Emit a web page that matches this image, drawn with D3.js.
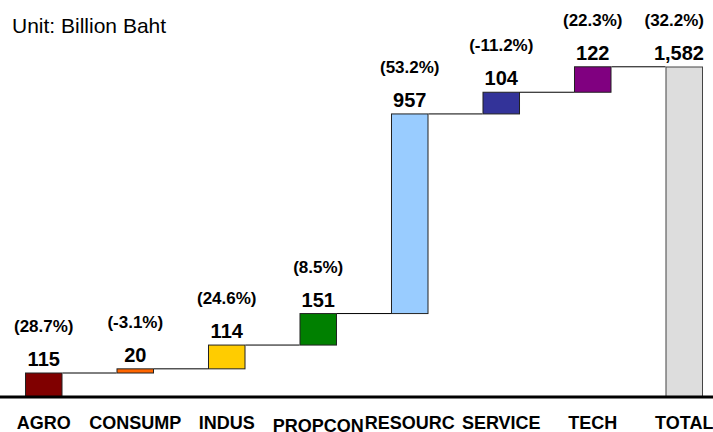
<!DOCTYPE html>
<html>
<head>
<meta charset="utf-8">
<script src="https://cdn.jsdelivr.net/npm/d3@7"></script>
<style>
  html, body { margin: 0; padding: 0; background: #fff; }
  svg { display: block; }
  text { font-family: Arial, "Liberation Sans", sans-serif; }
</style>
</head>
<body>
<svg id="chart" width="713" height="432"></svg>
<script>
const categories = ["AGRO", "CONSUMP", "INDUS", "PROPCON", "RESOURC", "SERVICE", "TECH", "TOTAL"];
const values = [115, 20, 114, 151, 957, 104, 122, 1582];
const valueLabels = ["115", "20", "114", "151", "957", "104", "122", "1,582"];
const pctLabels = ["(28.7%)", "(-3.1%)", "(24.6%)", "(8.5%)", "(53.2%)", "(-11.2%)", "(22.3%)", "(32.2%)"];
const colors = ["#800000", "#FF6600", "#FFCC00", "#008000", "#99CCFF", "#333399", "#800080", "#DDDDDD"];
const unitLabel = "Unit: Billion Baht";

// waterfall: each step starts where the previous ended; the last is the total from 0
const rows = [];
let cum = 0;
categories.forEach((c, i) => {
  const isTotal = i === categories.length - 1;
  const start = isTotal ? 0 : cum;
  const end = isTotal ? values[i] : cum + values[i];
  if (!isTotal) cum = end;
  rows.push({ cat: c, start, end, value: values[i], label: valueLabels[i], pct: pctLabels[i], color: colors[i], isTotal });
});

const svg = d3.select("#chart");
const rightLimit = 704;

const x = d3.scaleBand()
  .domain(categories)
  .range([-2, 730])
  .paddingInner(0.59)
  .paddingOuter(0.295);

const y = d3.scaleLinear()
  .domain([0, 1582])
  .range([397, 67]);

// connectors
svg.append("g")
  .selectAll("line")
  .data(rows.slice(0, -1))
  .join("line")
  .attr("x1", (d) => x(d.cat) + x.bandwidth())
  .attr("x2", (d, i) => x(rows[i + 1].cat))
  .attr("y1", (d) => y(d.end))
  .attr("y2", (d) => y(d.end))
  .attr("stroke", "#000")
  .attr("stroke-width", 1);

// bars
svg.append("g")
  .selectAll("rect")
  .data(rows)
  .join("rect")
  .attr("x", (d) => x(d.cat) + 0.5)
  .attr("y", (d) => y(Math.max(d.start, d.end)))
  .attr("width", x.bandwidth() - 1)
  .attr("height", (d) => Math.abs(y(d.start) - y(d.end)))
  .attr("fill", (d) => d.color)
  .attr("stroke", (d) => d.isTotal ? "#444" : "#222")
  .attr("stroke-width", 1);

function keepInside(sel) {
  sel.each(function () {
    const bb = this.getBBox();
    const over = bb.x + bb.width - rightLimit;
    if (over > 0) d3.select(this).attr("x", +d3.select(this).attr("x") - over);
  });
}

// value labels
svg.append("g")
  .selectAll("text")
  .data(rows)
  .join("text")
  .attr("x", (d) => x(d.cat) + x.bandwidth() / 2)
  .attr("y", (d) => y(d.end) - 7)
  .attr("text-anchor", "middle")
  .attr("font-weight", "bold")
  .attr("font-size", 20)
  .attr("fill", "#000")
  .text((d) => d.label)
  .call(keepInside);

// percent labels
svg.append("g")
  .selectAll("text")
  .data(rows)
  .join("text")
  .attr("x", (d) => x(d.cat) + x.bandwidth() / 2)
  .attr("y", (d) => y(d.end) - 41)
  .attr("text-anchor", "middle")
  .attr("font-weight", "bold")
  .attr("font-size", 17)
  .attr("fill", "#000")
  .text((d) => d.pct)
  .call(keepInside);

// baseline axis
const xAxis = d3.axisBottom(x).tickSize(0).tickPadding(0);
const axisG = svg.append("g")
  .attr("transform", `translate(0,${y(0)})`)
  .call(xAxis);
axisG.select(".domain")
  .attr("d", "M0,0H713")
  .attr("stroke", "#000")
  .attr("stroke-width", 3);
axisG.selectAll(".tick text")
  .attr("y", (d) => d === "PROPCON" ? 35 : 32)
  .attr("dy", 0)
  .attr("font-family", "Arial, 'Liberation Sans', sans-serif")
  .attr("font-size", 18)
  .attr("font-weight", "bold")
  .attr("fill", "#000");

// unit label
svg.append("text")
  .attr("x", 12)
  .attr("y", 33)
  .attr("font-size", 21)
  .attr("fill", "#000")
  .text(unitLabel);
</script>
</body>
</html>
